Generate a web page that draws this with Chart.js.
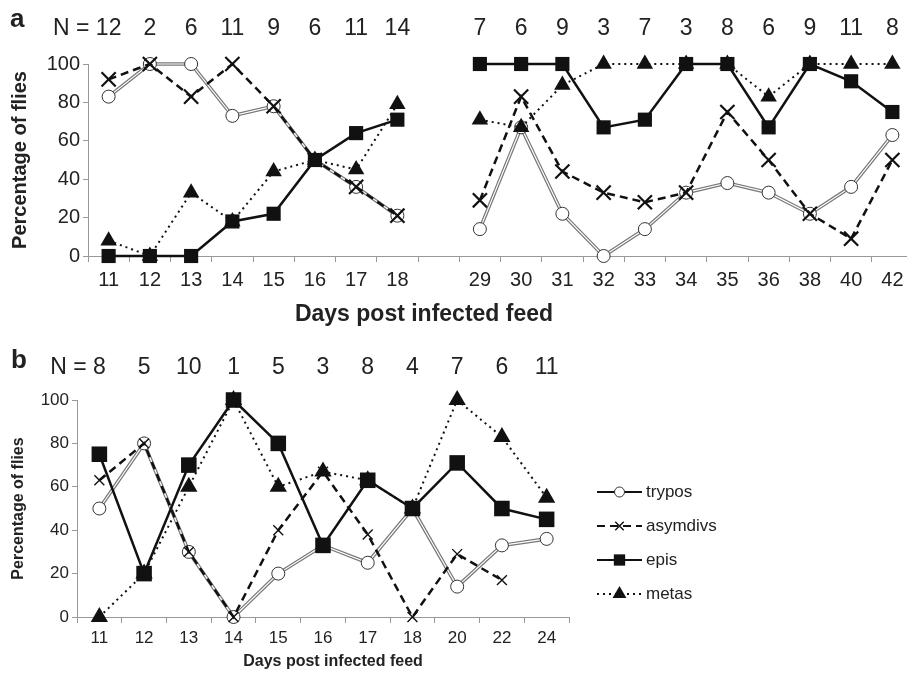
<!DOCTYPE html>
<html>
<head>
<meta charset="utf-8">
<script src="https://cdn.jsdelivr.net/npm/chart.js@4/dist/chart.umd.min.js"></script>
<style>
  html, body { margin: 0; padding: 0; background: #fff; overflow: hidden; width: 907px; height: 673px; }
  #chartA { position: absolute; left: 0; top: 0; }
  #chartB { position: absolute; left: 0; top: 330px; }
</style>
</head>
<body>
<canvas id="chartA" width="930" height="330"></canvas>
<canvas id="chartB" width="907" height="343"></canvas>
<script>
var FONT = '"Liberation Sans", Arial, Helvetica, sans-serif';

// panel a data (empty category = break between 18 and 29)
var daysA = ['11', '12', '13', '14', '15', '16', '17', '18', '', '29', '30', '31', '32', '33', '34', '35', '36', '38', '40', '42'];
var nA = [12, 2, 6, 11, 9, 6, 11, 14, null, 7, 6, 9, 3, 7, 3, 8, 6, 9, 11, 8];
var tryposA = [83, 100, 100, 73, 78, 50, 36, 21, null, 14, 67, 22, 0, 14, 33, 38, 33, 22, 36, 63];
var asymA = [92, 100, 83, 100, 78, 50, 36, 21, null, 29, 83, 44, 33, 28, 33, 75, 50, 22, 9, 50];
var episA = [0, 0, 0, 18, 22, 50, 64, 71, null, 100, 100, 100, 67, 71, 100, 100, 67, 100, 91, 75];
var metasA = [8, 0, 33, 18, 44, 50, 45, 79, null, 71, 67, 89, 100, 100, 100, 100, 83, 100, 100, 100];

// panel b data
var daysB = ['11', '12', '13', '14', '15', '16', '17', '18', '20', '22', '24'];
var nB = [8, 5, 10, 1, 5, 3, 8, 4, 7, 6, 11];
var tryposB = [50, 80, 30, 0, 20, 33, 25, 50, 14, 33, 36];
var asymB = [63, 80, 30, 0, 40, 67, 38, 0, 29, 17, null];
var episB = [75, 20, 70, 100, 80, 33, 63, 50, 71, 50, 45];
var metasB = [0, 20, 60, 100, 60, 67, 63, 50, 100, 83, 55];

var yMin = 0, yMax = 100, yStep = 20;
var legendNames = ['trypos', 'asymdivs', 'epis', 'metas'];

function buildSets(tr, as, ep, me, s) {
    return [
        { label: 'epis', data: ep, borderColor: '#111', borderWidth: 2.5, clip: false,
          pointStyle: 'rect', pointRadius: s.rect, pointBackgroundColor: '#111', pointBorderColor: '#111', pointBorderWidth: 0, order: 1 },
        { label: 'metas', data: me, borderColor: '#111', borderWidth: 2, borderDash: [2, 4], clip: false,
          pointStyle: 'triangle', pointRadius: s.tri, pointBackgroundColor: '#111', pointBorderColor: '#111', pointBorderWidth: 0, order: 2 },
        { label: 'asymdivs', data: as, borderColor: '#111', borderWidth: 2.5, borderDash: [8, 5], clip: false,
          pointStyle: 'crossRot', pointRadius: s.cross, pointBorderColor: '#111', pointBorderWidth: s.crossW, order: 3 },
        { label: 'trypos', data: tr, borderColor: '#fff', borderWidth: 1.2, clip: false,
          pointStyle: 'circle', pointRadius: s.circ, pointBackgroundColor: '#fff', pointBorderColor: '#333', pointBorderWidth: 1, order: 4 },
        // outer grey stroke of the double line
        { label: '', data: tr, borderColor: '#777', borderWidth: 3.6, pointRadius: 0, clip: false, order: 5 }
    ];
}

function buildScales(labels, p) {
    return {
        x: {
            type: 'category', labels: labels, offset: true,
            grid: { offset: true, drawOnChartArea: false, tickLength: 6, color: '#999' },
            border: { color: '#999' },
            ticks: { autoSkip: false, maxRotation: 0, padding: p.xPad, color: '#222', font: { family: FONT, size: p.xTick } },
            afterFit: function (sc) { sc.height = p.xH; }
        },
        y: {
            min: yMin, max: yMax,
            grid: { drawOnChartArea: false, tickLength: 5, color: '#999' },
            border: { color: '#999' },
            ticks: { stepSize: yStep, padding: 3, color: '#222', font: { family: FONT, size: p.yTick } },
            title: { display: true, text: 'Percentage of flies', color: '#222', padding: { top: p.yTitlePad, bottom: 0 },
                     font: { family: FONT, size: p.yTitle, weight: 'bold' } },
            afterFit: function (sc) { sc.width = p.yW; }
        }
    };
}

// panel letter, N counts and x-axis title
var annotPlugin = {
    id: 'annot',
    afterDraw: function (chart, args, o) {
        var ctx = chart.ctx, xs = chart.scales.x;
        ctx.save();
        ctx.fillStyle = '#222';
        ctx.textBaseline = 'middle';
        ctx.font = 'bold ' + o.letterSize + 'px ' + FONT;
        ctx.textAlign = 'left';
        ctx.fillText(o.letter, o.letterX, o.letterY);

        ctx.font = o.nSize + 'px ' + FONT;
        var first = true;
        o.n.forEach(function (v, i) {
            if (v == null) return;
            var x = xs.getPixelForValue(i), s = String(v);
            if (first) {
                ctx.textAlign = 'right';
                ctx.fillText('N = ' + s, x + ctx.measureText(s).width / 2, o.nY);
                first = false;
            } else {
                ctx.textAlign = 'center';
                ctx.fillText(s, x, o.nY);
            }
        });

        ctx.font = 'bold ' + o.titleSize + 'px ' + FONT;
        ctx.textAlign = 'center';
        ctx.fillText(o.title, o.titleX, o.titleY);
        ctx.restore();
    }
};

// line + marker legend
var lineLegend = {
    id: 'lineLegend',
    afterDraw: function (chart, args, o) {
        if (!o.show) return;
        var ctx = chart.ctx;
        legendNames.forEach(function (name, i) {
            var ds = chart.data.datasets.find(function (d) { return d.label === name; });
            var y = o.y + i * o.rowGap;
            ctx.save();
            ctx.strokeStyle = '#111';
            ctx.lineWidth = name === 'metas' ? 2 : 2.2;
            ctx.setLineDash(ds.borderDash || []);
            ctx.beginPath();
            ctx.moveTo(o.x, y);
            ctx.lineTo(o.x + o.len, y);
            ctx.stroke();
            ctx.setLineDash([]);
            ctx.fillStyle = ds.pointBackgroundColor || '#111';
            ctx.strokeStyle = ds.pointBorderColor || '#111';
            ctx.lineWidth = ds.pointBorderWidth || 1;
            Chart.helpers.drawPoint(ctx, { pointStyle: ds.pointStyle, radius: o.radius[name], rotation: 0, borderWidth: ds.pointBorderWidth || 0 },
                o.x + o.len / 2, y);
            ctx.fillStyle = '#222';
            ctx.font = o.size + 'px ' + FONT;
            ctx.textAlign = 'left';
            ctx.textBaseline = 'middle';
            ctx.fillText(name, o.x + o.len + 4, y);
            ctx.restore();
        });
    }
};

new Chart(document.getElementById('chartA'), {
    type: 'line',
    data: {
        labels: daysA,
        datasets: buildSets(tryposA, asymA, episA, metasA, { rect: 10, tri: 9.5, cross: 10, crossW: 2.2, circ: 6.5 })
    },
    options: {
        responsive: false, animation: false, devicePixelRatio: 1,
        spanGaps: false,
        layout: { padding: { top: 64, right: 17, left: 0, bottom: 0 } },
        scales: buildScales(daysA, { xTick: 20, yTick: 20, xPad: 6, xH: 74, yW: 88, yTitle: 20, yTitlePad: 8 }),
        plugins: {
            legend: { display: false },
            tooltip: { enabled: false },
            annot: { letter: 'a', letterSize: 26, letterX: 10, letterY: 20,
                     n: nA, nSize: 23, nY: 29,
                     title: 'Days post infected feed', titleSize: 23, titleX: 424, titleY: 315 },
            lineLegend: { show: false }
        }
    },
    plugins: [annotPlugin, lineLegend]
});

new Chart(document.getElementById('chartB'), {
    type: 'line',
    data: {
        labels: daysB,
        datasets: buildSets(tryposB, asymB, episB, metasB, { rect: 11, tri: 10, cross: 7, crossW: 1.4, circ: 6.5 })
    },
    options: {
        responsive: false, animation: false, devicePixelRatio: 1,
        layout: { padding: { top: 70, right: 338, left: 0, bottom: 0 } },
        scales: buildScales(daysB, { xTick: 17, yTick: 17, xPad: 5, xH: 56, yW: 77, yTitle: 16, yTitlePad: 9 }),
        plugins: {
            legend: { display: false },
            tooltip: { enabled: false },
            annot: { letter: 'b', letterSize: 26, letterX: 11, letterY: 31,
                     n: nB, nSize: 23, nY: 38,
                     title: 'Days post infected feed', titleSize: 16, titleX: 333, titleY: 332 },
            lineLegend: { show: true, x: 597, y: 162, rowGap: 34, len: 45, size: 17,
                          radius: { trypos: 5, asymdivs: 6, epis: 8, metas: 8 } }
        }
    },
    plugins: [annotPlugin, lineLegend]
});
</script>
</body>
</html>
